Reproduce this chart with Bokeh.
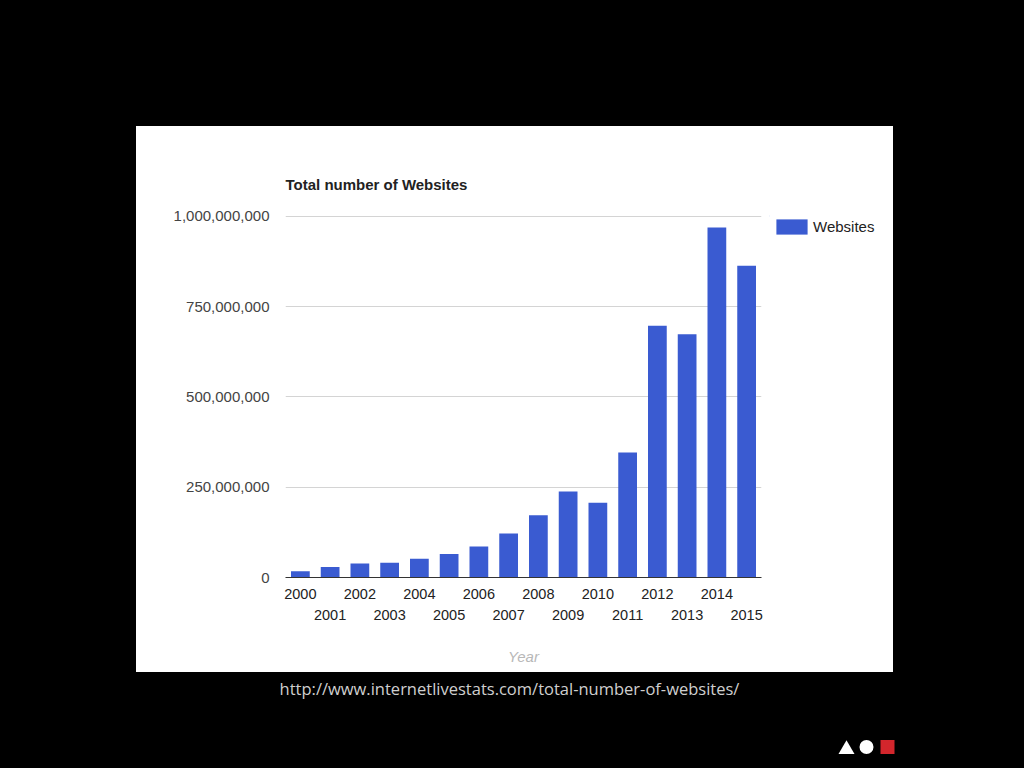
from bokeh.plotting import figure
from bokeh.models import (Range1d, FixedTicker, NumeralTickFormatter, LinearAxis,
                          Legend, LegendItem, ColumnDataSource, Spacer)
from bokeh.layouts import column, row
from bokeh.core.properties import value
from bokeh.embed import file_html
from bokeh.resources import INLINE

# ---- data ----
years = [2000, 2001, 2002, 2003, 2004, 2005, 2006, 2007,
         2008, 2009, 2010, 2011, 2012, 2013, 2014, 2015]
websites = [17087182, 29254370, 38760373, 40912332, 51611646, 64780617,
            85507314, 121892559, 172338726, 238027855, 206956723, 346004403,
            697089489, 672985183, 968882453, 863105652]
y_ticks = [0, 250000000, 500000000, 750000000, 1000000000]
title_text = "Total number of Websites"
series_name = "Websites"
x_title = "Year"
source_url = "http://www.internetlivestats.com/total-number-of-websites/"

FONT = "Liberation Sans"
BAR = "#3a5bd1"

src = ColumnDataSource(dict(year=years, sites=websites))

p = figure(width=633, height=546, output_backend="svg", toolbar_location=None,
           x_range=Range1d(years[0] - 0.5, years[-1] + 0.5),
           y_range=Range1d(0, 1002000000),
           min_border_left=149, min_border_right=8,
           min_border_top=89, min_border_bottom=95,
           x_axis_location=None)
p.background_fill_color = "white"
p.border_fill_color = "white"
p.outline_line_color = None

p.title.text = title_text
p.title.text_font = FONT
p.title.text_font_size = "15px"
p.title.text_font_style = "bold"
p.title.text_color = "#222222"
p.title.align = "left"
p.title.standoff = 46

bars = p.vbar(x="year", top="sites", width=0.63, source=src,
              fill_color=BAR, line_color=None)

# y axis
ya = p.yaxis[0]
ya.ticker = FixedTicker(ticks=y_ticks)
ya.formatter = NumeralTickFormatter(format="0,0")
ya.axis_line_color = None
ya.major_tick_line_color = None
ya.minor_tick_line_color = None
ya.major_tick_out = 0
ya.minor_tick_out = 0
ya.major_label_standoff = 16
ya.major_label_text_font = FONT
ya.major_label_text_font_size = "15px"
ya.major_label_text_color = "#444444"

p.xgrid.visible = False
p.ygrid.ticker = FixedTicker(ticks=y_ticks)
p.ygrid.grid_line_color = "#d4d4d4"
p.ygrid.grid_line_width = 1.2

# x axis: two staggered rows
even_over = {y: (str(y) if y % 2 == 0 else "") for y in years}
odd_over = {y: (str(y) if y % 2 == 1 else "") for y in years}

xa1 = LinearAxis(ticker=FixedTicker(ticks=years), major_label_overrides=even_over)
xa1.axis_line_color = "#333333"
xa1.axis_line_width = 1.2
xa1.major_tick_line_color = None
xa1.minor_tick_line_color = None
xa1.major_tick_out = 0
xa1.minor_tick_out = 0
xa1.major_label_standoff = 11
xa1.major_label_text_font = FONT
xa1.major_label_text_font_size = "14.5px"
xa1.major_label_text_color = "#222222"
p.add_layout(xa1, "below")

xa2 = LinearAxis(ticker=FixedTicker(ticks=years), major_label_overrides=odd_over)
xa2.axis_line_color = None
xa2.major_tick_line_color = None
xa2.minor_tick_line_color = None
xa2.major_tick_out = 0
xa2.minor_tick_out = 0
xa2.major_label_standoff = 8
xa2.major_label_text_font = FONT
xa2.major_label_text_font_size = "14.5px"
xa2.major_label_text_color = "#222222"
xa2.axis_label = x_title
xa2.axis_label_text_font = FONT
xa2.axis_label_text_font_size = "15px"
xa2.axis_label_text_font_style = "italic"
xa2.axis_label_text_color = "#b8b8b8"
xa2.axis_label_standoff = 25
p.add_layout(xa2, "below")

# legend panel at the right of the chart
lf = figure(width=124, height=546, output_backend="svg", toolbar_location=None,
            x_range=Range1d(0, 124), y_range=Range1d(546, 0),
            min_border=0, x_axis_location=None, y_axis_location=None)
lf.background_fill_color = "white"
lf.border_fill_color = "white"
lf.outline_line_color = None
lf.grid.visible = False
# the swatch renderer sits outside the visible range; only its legend entry shows
legend_src = ColumnDataSource(dict(x=[-1000], top=[1]))
legend_bar = lf.vbar(x="x", top="top", width=1, source=legend_src,
                     fill_color=BAR, line_color=None)
legend = Legend(items=[LegendItem(label=series_name, renderers=[legend_bar])],
                location=(3, 341), margin=0, padding=0, spacing=0,
                glyph_width=39, glyph_height=19, label_standoff=2,
                border_line_color=None, background_fill_alpha=0,
                label_text_font=FONT, label_text_font_size="15px",
                label_text_color="#222222")
lf.add_layout(legend, "center")

# footer (source + decoration)
f = figure(width=1008, height=87, output_backend="svg", toolbar_location=None,
           x_range=Range1d(0, 1008), y_range=Range1d(87, 0),
           min_border=0, x_axis_location=None, y_axis_location=None)
f.background_fill_color = "black"
f.border_fill_color = "black"
f.outline_line_color = None
f.grid.visible = False
f.text(x=[509], y=[16], text=[source_url], text_font=value("Open Sans"),
       text_font_size="16.5px", text_color="#cfcfcf",
       text_align="center", text_baseline="middle")
f.scatter(x=[846], y=[77], marker="triangle", size=16, fill_color="white", line_color=None)
f.scatter(x=[866], y=[74.5], marker="circle", size=14, fill_color="white", line_color=None)
f.scatter(x=[887], y=[74.5], marker="square", size=14, fill_color="#d3262c", line_color=None)

panel = row(p, lf, styles={"background-color": "white"})
layout = column(Spacer(height=126, width=10),
                row(Spacer(width=136, height=10), panel),
                f)

html = file_html(layout, INLINE)
html = html.replace("</head>", "<style>html,body{background:#000000;}</style></head>", 1)
open("out.html", "w").write(html)
